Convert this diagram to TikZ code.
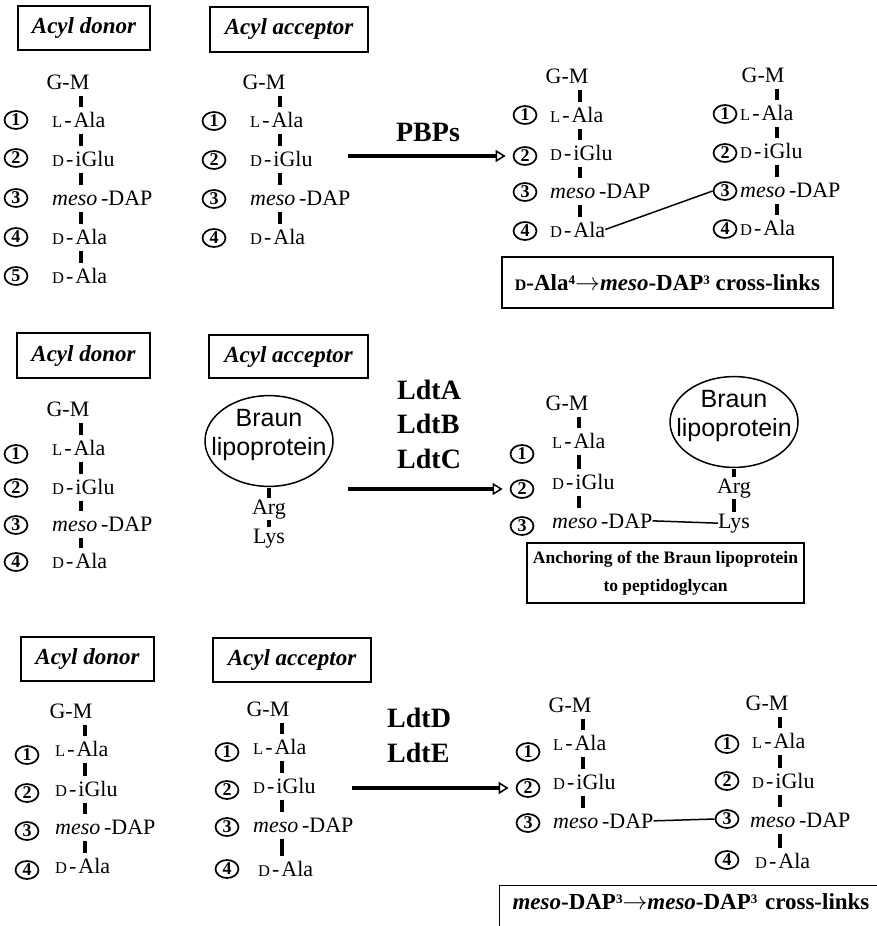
\documentclass[tikz,border=0pt]{standalone}
\usepackage{fontspec}
\setmainfont{Liberation Serif}
\newfontfamily\lppfont{Liberation Sans}
\usetikzlibrary{shapes.geometric,arrows.meta}
\newcommand{\chir}[1]{{\fontsize{16}{16}\selectfont #1}}
\newcommand{\cfg}[1]{{\fontsize{16.5}{16}\selectfont #1}\hspace{2pt}-\hspace{2pt}}
\newcommand{\supnum}[1]{\raisebox{6pt}{\fontsize{13}{13}\selectfont #1}}
\begin{document}
\begin{tikzpicture}[x=1pt,y=-1pt,
  hdr/.style={draw, line width=1.1pt, inner sep=0pt, font=\bfseries\itshape\fontsize{23}{26}\selectfont},
  gm/.style={anchor=base, inner sep=0pt, font=\fontsize{22}{24}\selectfont},
  res/.style={anchor=base west, inner sep=0pt, font=\fontsize{22}{24}\selectfont},
  num/.style={draw, ellipse, line width=1.7pt, minimum width=23pt, minimum height=18pt, inner sep=0pt, font=\bfseries\fontsize{18}{18}\selectfont},
  bond/.style={line width=3.8pt, shorten <=13.5pt, shorten >=13.5pt},
  stub/.style={line width=3.8pt, shorten <=1pt, shorten >=1pt},
  xlink/.style={line width=1.5pt},
  react/.style={line width=3.8pt, -{Triangle[open, length=10pt, width=12pt, line width=1.5pt]}, shorten >=7pt},
  enz/.style={anchor=base west, inner sep=0pt, font=\bfseries\fontsize{28}{34}\selectfont},
  lpp/.style={draw, ellipse, line width=1.5pt, minimum width=128pt, minimum height=88pt, inner sep=0pt, align=center, font=\lppfont\fontsize{25}{29}\selectfont},
  result/.style={draw, line width=1.1pt, inner sep=0pt, font=\bfseries\fontsize{23}{26}\selectfont}]
\useasboundingbox (0,0) rectangle (877,926);
\clip (0,0) rectangle (877,926);

% ---------- PBPs ----------
\node[hdr, minimum width=132pt, minimum height=44pt] (don1) at (84,28)   {Acyl donor};
\node[hdr, minimum width=158pt, minimum height=45pt] (acc1) at (289,29.5) {Acyl acceptor};

\node[gm]  (d1gm) at (68,89)  {G-M};
\node[num] (d1n1) at (16,120) {1};
\node[res] (d1r1) at (52,127) {\cfg{L}Ala};
\node[num] (d1n2) at (16,158) {2};
\node[res] (d1r2) at (52,166) {\cfg{D}iGlu};
\node[num] (d1n3) at (16,198) {3};
\node[res] (d1r3) at (52,205) {\textit{meso}\,-DAP};
\node[num] (d1n4) at (16,237) {4};
\node[res] (d1r4) at (52,244) {\cfg{D}Ala};
\node[num] (d1n5) at (16,276) {5};
\node[res] (d1r5) at (52,283) {\cfg{D}Ala};
\coordinate (d1s0) at (81,82);
\coordinate (d1s1) at (81,120);
\coordinate (d1s2) at (81,159);
\coordinate (d1s3) at (81,198);
\coordinate (d1s4) at (81,237);
\coordinate (d1s5) at (81,276);
\draw[bond] (d1s0) edge (d1s1) (d1s1) edge (d1s2) (d1s2) edge (d1s3) (d1s3) edge (d1s4) (d1s4) edge (d1s5);

\node[gm]  (a1gm) at (264,89)  {G-M};
\node[num] (a1n1) at (214,121) {1};
\node[res] (a1r1) at (250,127) {\cfg{L}Ala};
\node[num] (a1n2) at (214,160) {2};
\node[res] (a1r2) at (250,166) {\cfg{D}iGlu};
\node[num] (a1n3) at (214,199) {3};
\node[res] (a1r3) at (250,205) {\textit{meso}\,-DAP};
\node[num] (a1n4) at (214,238) {4};
\node[res] (a1r4) at (250,244) {\cfg{D}Ala};
\coordinate (a1s0) at (280,82);
\coordinate (a1s1) at (280,120);
\coordinate (a1s2) at (280,159);
\coordinate (a1s3) at (280,198);
\coordinate (a1s4) at (280,237);
\draw[bond] (a1s0) edge (a1s1) (a1s1) edge (a1s2) (a1s2) edge (a1s3) (a1s3) edge (a1s4);

\node[enz, anchor=base] (pbps) at (428,141) {PBPs};
\coordinate (pbpsin) at (348,156);

\node[gm]  (p1gm) at (567,83)  {G-M};
\node[num] (p1n1) at (525,115) {1};
\node[res] (p1r1) at (550,122) {\cfg{L}Ala};
\node[num] (p1n2) at (525,156) {2};
\node[res] (p1r2) at (550,160) {\cfg{D}iGlu};
\node[num] (p1n3) at (525,192) {3};
\node[res] (p1r3) at (550,198) {\textit{meso}\,-DAP};
\node[num] (p1n4) at (525,231) {4};
\node[res] (p1r4) at (550,237) {\cfg{D}Ala};
\coordinate (p1s0) at (580,76);
\coordinate (p1s1) at (580,115);
\coordinate (p1s2) at (580,153);
\coordinate (p1s3) at (580,191);
\coordinate (p1s4) at (580,230);
\draw[bond] (p1s0) edge (p1s1) (p1s1) edge (p1s2) (p1s2) edge (p1s3) (p1s3) edge (p1s4);

\node[gm]  (q1gm) at (763,82)  {G-M};
\node[num] (q1n1) at (725,114) {1};
\node[res] (q1r1) at (740,120) {\cfg{L}Ala};
\node[num] (q1n2) at (725,153) {2};
\node[res] (q1r2) at (740,158) {\cfg{D}iGlu};
\node[num] (q1n3) at (725,191) {3};
\node[res] (q1r3) at (740,197) {\textit{meso}\,-DAP};
\node[num] (q1n4) at (725,229) {4};
\node[res] (q1r4) at (740,235) {\cfg{D}Ala};
\coordinate (q1s0) at (777,75);
\coordinate (q1s1) at (777,113);
\coordinate (q1s2) at (777,151);
\coordinate (q1s3) at (777,190);
\coordinate (q1s4) at (777,228);
\draw[bond] (q1s0) edge (q1s1) (q1s1) edge (q1s2) (q1s2) edge (q1s3) (q1s3) edge (q1s4);

\draw[react] (pbpsin) -- (p1n2.west);
\draw[xlink] (p1r4.east) -- (q1n3.west);
\node[result, minimum width=331pt, minimum height=51pt] (xl1) at (667.5,282.5)
  {\chir{D}-Ala\supnum{4}$\rightarrow$\textit{meso}-DAP\supnum{3} cross-links};

% ---------- LdtA, LdtB, LdtC ----------
\node[hdr, minimum width=133pt, minimum height=45pt] (don2) at (83.5,355.5) {Acyl donor};
\node[hdr, minimum width=159pt, minimum height=43pt] (acc2) at (288.5,356.5) {Acyl acceptor};

\node[gm]  (d2gm) at (68,416) {G-M};
\node[num] (d2n1) at (16,454) {1};
\node[res] (d2r1) at (52,455) {\cfg{L}Ala};
\node[num] (d2n2) at (16,488) {2};
\node[res] (d2r2) at (52,494) {\cfg{D}iGlu};
\node[num] (d2n3) at (16,525) {3};
\node[res] (d2r3) at (52,531) {\textit{meso}\,-DAP};
\node[num] (d2n4) at (16,562) {4};
\node[res] (d2r4) at (52,568) {\cfg{D}Ala};
\coordinate (d2s0) at (81,409);
\coordinate (d2s1) at (81,448);
\coordinate (d2s2) at (81,487);
\coordinate (d2s3) at (81,524);
\coordinate (d2s4) at (81,561);
\draw[bond] (d2s0) edge (d2s1) (d2s1) edge (d2s2) (d2s2) edge (d2s3) (d2s3) edge (d2s4);

\node[lpp] (lpp2a) at (269,441) {\makebox[0pt]{Braun}\\\makebox[0pt]{lipoprotein}\rule[-18pt]{0pt}{0pt}};
\node[gm] (arg2a) at (269,514) {Arg};
\node[gm] (lys2a) at (269,543) {Lys};
\draw[stub] (lpp2a.south) -- (arg2a.north);
\draw[stub] (arg2a.south) -- (lys2a.north);

\node[enz] (ldta) at (397,399) {LdtA};
\node[enz] (ldtb) at (397,433) {LdtB};
\node[enz] (ldtc) at (397,468) {LdtC};
\coordinate (ldtin) at (348,489);

\node[gm]  (p2gm) at (567,410) {G-M};
\node[num] (p2n1) at (522,454) {1};
\node[res] (p2r1) at (552,448) {\cfg{L}Ala};
\node[num] (p2n2) at (522,489) {2};
\node[res] (p2r2) at (552,489) {\cfg{D}iGlu};
\node[num] (p2n3) at (522,526) {3};
\node[res] (p2r3) at (552,528) {\textit{meso}\,-DAP};
\coordinate (p2s0) at (579,403);
\coordinate (p2s1) at (579,441);
\coordinate (p2s2) at (579,482);
\coordinate (p2s3) at (579,521);
\draw[bond] (p2s0) edge (p2s1) (p2s1) edge (p2s2) (p2s2) edge (p2s3);

\node[lpp] (lpp2b) at (734,422) {\makebox[0pt]{Braun}\\\makebox[0pt]{lipoprotein}\rule[-18pt]{0pt}{0pt}};
\node[gm] (arg2b) at (734,493) {Arg};
\node[gm] (lys2b) at (734,528) {Lys};
\draw[stub] (lpp2b.south) -- (arg2b.north);
\draw[stub] (arg2b.south) -- (lys2b.north);

\draw[react] (ldtin) -- (p2n2.west);
\draw[xlink] (p2r3.east) -- (lys2b.west);
\node[result, minimum width=277pt, minimum height=60pt, align=center,
  font=\bfseries\fontsize{17.5}{28}\selectfont] (anc2) at (665.5,573)
  {Anchoring of the Braun lipoprotein\\to peptidoglycan};

% ---------- LdtD, LdtE ----------
\node[hdr, minimum width=133pt, minimum height=44pt] (don3) at (87.5,659) {Acyl donor};
\node[hdr, minimum width=158pt, minimum height=44pt] (acc3) at (292,660) {Acyl acceptor};

\node[gm]  (d3gm) at (71,718) {G-M};
\node[num] (d3n1) at (27,755) {1};
\node[res] (d3r1) at (55,756) {\cfg{L}Ala};
\node[num] (d3n2) at (27,793) {2};
\node[res] (d3r2) at (55,796) {\cfg{D}iGlu};
\node[num] (d3n3) at (27,831) {3};
\node[res] (d3r3) at (55,834) {\textit{meso}\,-DAP};
\node[num] (d3n4) at (27,870) {4};
\node[res] (d3r4) at (55,873) {\cfg{D}Ala};
\coordinate (d3s0) at (85,711);
\coordinate (d3s1) at (85,749);
\coordinate (d3s2) at (85,789);
\coordinate (d3s3) at (85,827);
\coordinate (d3s4) at (85,866);
\draw[bond] (d3s0) edge (d3s1) (d3s1) edge (d3s2) (d3s2) edge (d3s3) (d3s3) edge (d3s4);

\node[gm]  (a3gm) at (268,716) {G-M};
\node[num] (a3n1) at (227,752) {1};
\node[res] (a3r1) at (253,754) {\cfg{L}Ala};
\node[num] (a3n2) at (227,790) {2};
\node[res] (a3r2) at (253,793) {\cfg{D}iGlu};
\node[num] (a3n3) at (227,827) {3};
\node[res] (a3r3) at (253,832) {\textit{meso}\,-DAP};
\node[num] (a3n4) at (227,869) {4};
\node[res] (a3r4) at (258,876) {\cfg{D}Ala};
\coordinate (a3s0) at (282,709);
\coordinate (a3s1) at (282,747);
\coordinate (a3s2) at (282,786);
\coordinate (a3s3) at (282,825);
\coordinate (a3s4) at (282,869);
\draw[bond] (a3s0) edge (a3s1) (a3s1) edge (a3s2) (a3s2) edge (a3s3) (a3s3) edge (a3s4);

\node[enz] (ldtd) at (387,727) {LdtD};
\node[enz] (ldte) at (387,762) {LdtE};
\coordinate (ldtin2) at (352,788);

\node[gm]  (p3gm) at (570,712) {G-M};
\node[num] (p3n1) at (528,752) {1};
\node[res] (p3r1) at (553,750) {\cfg{L}Ala};
\node[num] (p3n2) at (528,788) {2};
\node[res] (p3r2) at (553,789) {\cfg{D}iGlu};
\node[num] (p3n3) at (528,823) {3};
\node[res] (p3r3) at (553,828) {\textit{meso}\,-DAP};
\coordinate (p3s0) at (583,705);
\coordinate (p3s1) at (583,743);
\coordinate (p3s2) at (583,782);
\coordinate (p3s3) at (583,821);
\draw[bond] (p3s0) edge (p3s1) (p3s1) edge (p3s2) (p3s2) edge (p3s3);

\node[gm]  (q3gm) at (767,710) {G-M};
\node[num] (q3n1) at (727,744) {1};
\node[res] (q3r1) at (752,748) {\cfg{L}Ala};
\node[num] (q3n2) at (727,781) {2};
\node[res] (q3r2) at (752,788) {\cfg{D}iGlu};
\node[num] (q3n3) at (727,819) {3};
\node[res] (q3r3) at (750,827) {\textit{meso}\,-DAP};
\node[num] (q3n4) at (727,860) {4};
\node[res] (q3r4) at (755,868) {\cfg{D}Ala};
\coordinate (q3s0) at (780,703);
\coordinate (q3s1) at (780,741);
\coordinate (q3s2) at (780,781);
\coordinate (q3s3) at (780,820);
\coordinate (q3s4) at (780,861);
\draw[bond] (q3s0) edge (q3s1) (q3s1) edge (q3s2) (q3s2) edge (q3s3) (q3s3) edge (q3s4);

\draw[react] (ldtin2) -- (p3n2.west);
\draw[xlink] (p3r3.east) -- (q3n3.west);
\node[result, anchor=north west, inner xsep=13pt, inner ysep=8pt, text height=16pt, text depth=40pt,
  text width=390pt, align=left, font=\bfseries\fontsize{23}{26}\selectfont] (xl3) at (499,885)
  {\textit{meso}-DAP\supnum{3}$\rightarrow$\textit{meso}-DAP\supnum{3} cross-links};
\end{tikzpicture}
\end{document}
